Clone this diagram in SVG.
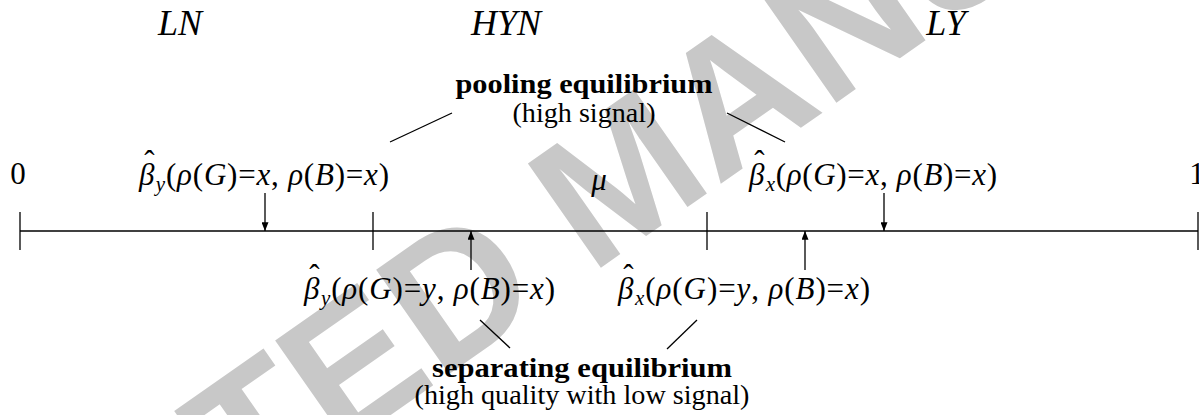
<svg xmlns="http://www.w3.org/2000/svg" width="1199" height="415" viewBox="0 0 1199 415">
<style>
.m{font-family:"Liberation Serif","Times New Roman",serif;font-size:31px;fill:#000}
.t{font-family:"Liberation Serif","Times New Roman",serif;font-size:28px;fill:#000}
.i{font-style:italic}
.b{font-weight:bold}
.s{font-size:21px;font-style:italic}
.top{font-family:"Liberation Serif","Times New Roman",serif;font-size:36px;font-style:italic;text-anchor:middle}
.wm{font-family:"Liberation Sans",Arial,sans-serif;font-weight:bold;font-size:185px;fill:#c8c8c8}
.ln{stroke:#000;stroke-width:1.3;fill:none}
</style>
<defs>
<marker id="ah" viewBox="0 0 10 8" refX="10" refY="4" markerWidth="9" markerHeight="7" markerUnits="userSpaceOnUse" orient="auto"><path d="M0,0L10,4L0,8z" fill="#000"/></marker>
</defs>
<rect width="1199" height="415" fill="#fff"/>
<text class="wm" transform="translate(-285,888) rotate(-35)">ACCEPTED MANUSCRIPT</text>

<g id="regions">
<text class="top" x="180" y="35">LN</text>
<text class="top" x="506" y="35">HYN</text>
<text class="top" x="946" y="35">LY</text>
</g>

<g id="pooling">
<text class="t b" x="584" y="93" text-anchor="middle" textLength="257" lengthAdjust="spacingAndGlyphs">pooling equilibrium</text>
<text class="t" x="584" y="122" text-anchor="middle" textLength="143" lengthAdjust="spacingAndGlyphs">(high signal)</text>
</g>

<g id="separating">
<text class="t b" x="582" y="377" text-anchor="middle" textLength="300" lengthAdjust="spacingAndGlyphs">separating equilibrium</text>
<text class="t" x="582" y="404" text-anchor="middle" textLength="335" lengthAdjust="spacingAndGlyphs">(high quality with low signal)</text>
</g>

<g id="axis">
<line class="ln" x1="20" y1="231" x2="1198" y2="231"/>
<line class="ln" x1="20" y1="212" x2="20" y2="250"/>
<line class="ln" x1="373" y1="212" x2="373" y2="250"/>
<line class="ln" x1="707" y1="212" x2="707" y2="250"/>
<line class="ln" x1="1198" y1="212" x2="1198" y2="250"/>
<text class="m" x="18" y="184" text-anchor="middle">0</text>
<text class="m" x="1197" y="184" text-anchor="middle">1</text>
<text class="m i" x="599" y="190" text-anchor="middle" font-size="33">μ</text>
</g>

<g id="beta-y-xx">
<text class="m" x="139" y="185" textLength="250" lengthAdjust="spacing"><tspan class="i">β</tspan><tspan dx="-11" dy="-13">ˆ</tspan><tspan class="s" dx="0.5" dy="19">y</tspan><tspan dy="-6">(</tspan><tspan class="i">ρ</tspan>(<tspan class="i">G</tspan>)=<tspan class="i">x</tspan>, <tspan class="i">ρ</tspan>(<tspan class="i">B</tspan>)=<tspan class="i">x</tspan>)</text>
</g>

<g id="beta-x-xx">
<text class="m" x="749" y="185" textLength="248" lengthAdjust="spacing"><tspan class="i">β</tspan><tspan dx="-11" dy="-13">ˆ</tspan><tspan class="s" dx="0.5" dy="19">x</tspan><tspan dy="-6">(</tspan><tspan class="i">ρ</tspan>(<tspan class="i">G</tspan>)=<tspan class="i">x</tspan>, <tspan class="i">ρ</tspan>(<tspan class="i">B</tspan>)=<tspan class="i">x</tspan>)</text>
</g>

<g id="beta-y-yx">
<text class="m" x="304" y="299" textLength="251" lengthAdjust="spacing"><tspan class="i">β</tspan><tspan dx="-11" dy="-13">ˆ</tspan><tspan class="s" dx="0.5" dy="19">y</tspan><tspan dy="-6">(</tspan><tspan class="i">ρ</tspan>(<tspan class="i">G</tspan>)=<tspan class="i">y</tspan>, <tspan class="i">ρ</tspan>(<tspan class="i">B</tspan>)=<tspan class="i">x</tspan>)</text>
</g>

<g id="beta-x-yx">
<text class="m" x="618" y="299" textLength="252" lengthAdjust="spacing"><tspan class="i">β</tspan><tspan dx="-11" dy="-13">ˆ</tspan><tspan class="s" dx="0.5" dy="19">x</tspan><tspan dy="-6">(</tspan><tspan class="i">ρ</tspan>(<tspan class="i">G</tspan>)=<tspan class="i">y</tspan>, <tspan class="i">ρ</tspan>(<tspan class="i">B</tspan>)=<tspan class="i">x</tspan>)</text>
</g>

<g id="connectors">
<line class="ln" x1="265" y1="193" x2="265" y2="231" marker-end="url(#ah)"/>
<line class="ln" x1="884" y1="193" x2="884" y2="231" marker-end="url(#ah)"/>
<line class="ln" x1="471" y1="270" x2="471" y2="231" marker-end="url(#ah)"/>
<line class="ln" x1="805" y1="270" x2="805" y2="231" marker-end="url(#ah)"/>
<line class="ln" x1="390" y1="142" x2="452" y2="113"/>
<line class="ln" x1="727" y1="113" x2="785" y2="142"/>
<line class="ln" x1="480" y1="320" x2="510" y2="348"/>
<line class="ln" x1="697" y1="320" x2="667" y2="349"/>
</g>
</svg>
